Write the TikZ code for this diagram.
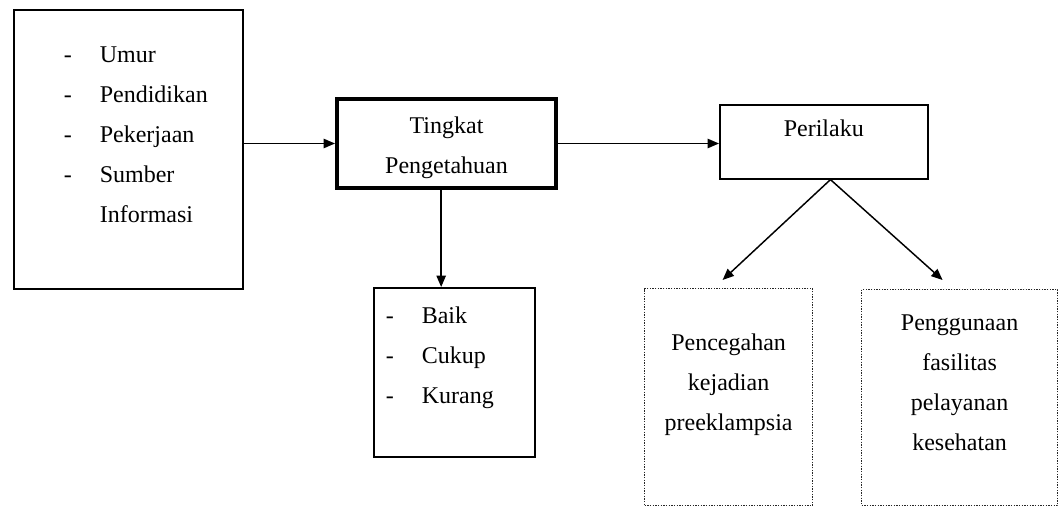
\documentclass[tikz,border=0pt]{standalone}
\usepackage{fontspec}
\setmainfont{Liberation Serif}
\usetikzlibrary{arrows.meta}
\newcommand{\itm}[2][-]{\makebox[27pt][l]{#1}#2}
\tikzset{
  box/.style={rectangle, draw, line width=1.2pt, inner sep=0pt,
              font=\fontsize{18}{30}\selectfont},
  thickbox/.style={box, line width=3pt},
  dotbox/.style={box, line width=0.9pt, draw=black!85, dash pattern=on 1pt off 1pt},
  arrow/.style={-{Triangle[length=8.5pt,width=7pt]}, line width=1.1pt}
}
\begin{document}
\begin{tikzpicture}[x=0.75pt, y=-0.75pt]
  \useasboundingbox (0,0) rectangle (1058,506);

  \node[box, anchor=north west, inner xsep=37.5pt, text width=96.75pt, align=left,
        text height=39.75pt, text depth=169.5pt] (faktor) at (13,9)
        {\itm{Umur}\\ \itm{Pendidikan}\\ \itm{Pekerjaan}\\ \itm{Sumber}\\ \itm[]{Informasi}};
  \node[thickbox, anchor=north west, text width=164.25pt, align=center,
        text height=26.25pt, text depth=40.5pt] (tingkat) at (335,97)
        {Tingkat\\Pengetahuan};
  \node[box, anchor=north west, text width=156pt, align=center,
        text height=24pt, text depth=31.5pt] (perilaku) at (719,104) {Perilaku};
  \node[box, anchor=north west, inner xsep=9pt, text width=102.75pt, align=left,
        text height=27pt, text depth=99.75pt] (kategori) at (373,287)
        {\itm{Baik}\\ \itm{Cukup}\\ \itm{Kurang}};
  \node[dotbox, anchor=north west, text width=126pt, align=center,
        text height=46.5pt, text depth=116.25pt] (pencegahan) at (644,288)
        {Pencegahan\\kejadian\\preeklampsia};
  \node[dotbox, anchor=north west, text width=147pt, align=center,
        text height=30.75pt, text depth=131.25pt] (penggunaan) at (861,289)
        {Penggunaan\\fasilitas\\pelayanan\\kesehatan};

  \draw[arrow] (faktor.east |- tingkat.west) -- (tingkat.west);
  \draw[arrow] (tingkat.east) -- (tingkat.east -| perilaku.west);
  \draw[arrow] ([xshift=-4pt]tingkat.south) -- ([xshift=-4pt]tingkat.south |- kategori.north);
  \draw[arrow] ([xshift=5pt]perilaku.south) -- ([xshift=-4.5pt,yshift=6pt]pencegahan.north);
  \draw[arrow] ([xshift=5pt]perilaku.south) -- ([xshift=-12.75pt,yshift=6.75pt]penggunaan.north);
\end{tikzpicture}
\end{document}
